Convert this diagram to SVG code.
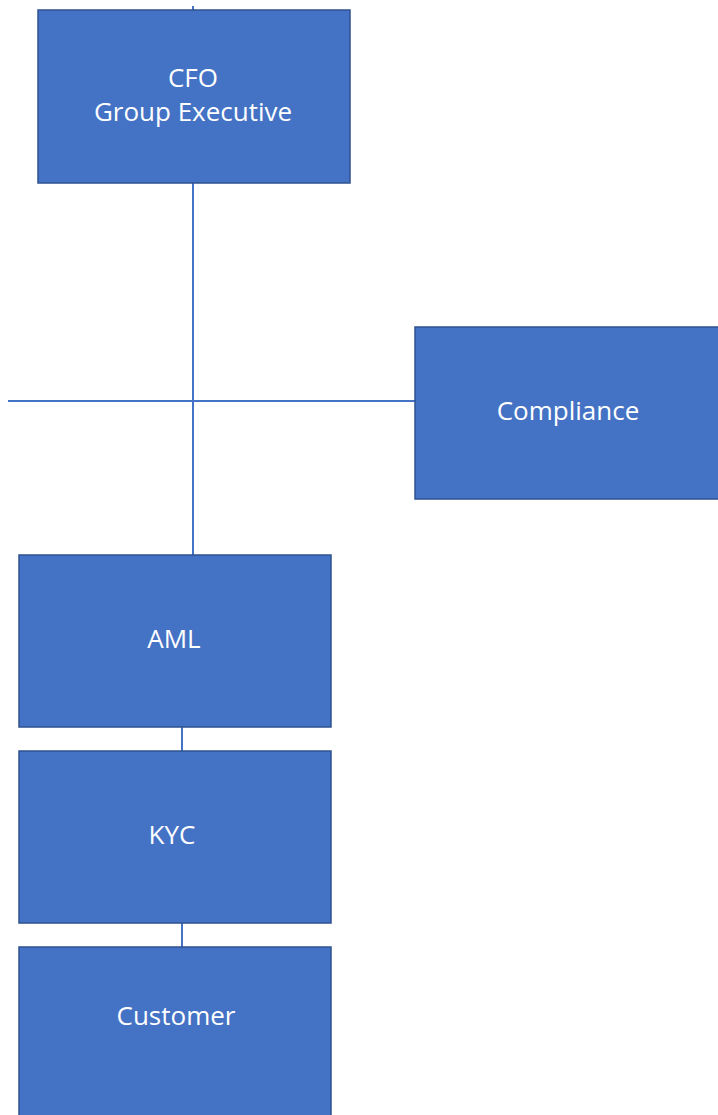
<svg xmlns="http://www.w3.org/2000/svg" width="718" height="1115" viewBox="0 0 718 1115">
<style>
.box{fill:#4472C4;stroke:#2F528F;stroke-width:1.5}
.lbl{font-family:"Open Sans","Noto Sans",sans-serif;font-size:26px;fill:#ffffff;text-anchor:middle}
.con{stroke:#4472C4;stroke-width:2;fill:none}
</style>
<rect width="718" height="1115" fill="#ffffff"/>
<g id="connectors">
<line class="con" x1="193" y1="6" x2="193" y2="10"/>
<line class="con" x1="193" y1="183" x2="193" y2="555"/>
<line class="con" x1="8" y1="401" x2="415" y2="401"/>
<line class="con" x1="182" y1="727" x2="182" y2="751"/>
<line class="con" x1="182" y1="923" x2="182" y2="947"/>
</g>
<g id="cfo">
<rect class="box" x="38" y="10" width="312" height="173"/>
<text class="lbl" x="193" y="87">CFO</text>
<text class="lbl" x="193" y="121">Group Executive</text>
</g>
<g id="compliance">
<rect class="box" x="415" y="327" width="305" height="172"/>
<text class="lbl" x="568" y="420">Compliance</text>
</g>
<g id="aml">
<rect class="box" x="19" y="555" width="312" height="172"/>
<text class="lbl" x="174" y="648">AML</text>
</g>
<g id="kyc">
<rect class="box" x="19" y="751" width="312" height="172"/>
<text class="lbl" x="172" y="844">KYC</text>
</g>
<g id="customer">
<rect class="box" x="19" y="947" width="312" height="172"/>
<text class="lbl" x="176" y="1025">Customer</text>
</g>
</svg>
